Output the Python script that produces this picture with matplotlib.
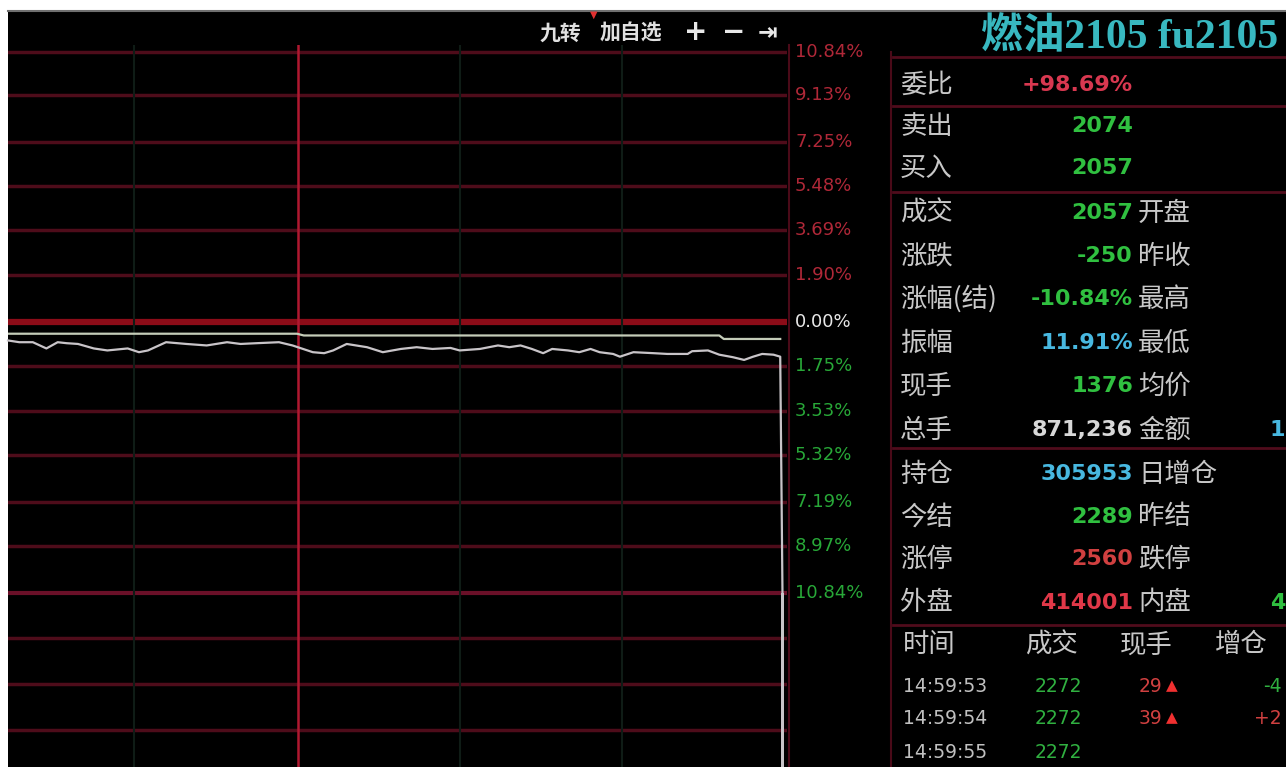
import matplotlib
matplotlib.use("Agg")
import matplotlib.pyplot as plt
from matplotlib.lines import Line2D
from matplotlib.patches import Rectangle

# intraday price, % change vs previous settle (minutes from session open)
times = [0, 5, 11, 17, 22, 26, 31, 38, 44, 53, 58, 62, 70, 79, 88, 97, 103, 110, 120, 126,
         135, 140, 144, 150, 159, 166, 174, 181, 188, 196, 200, 209, 217, 222, 227, 232, 237, 241, 248, 253,
         258, 262, 268, 271, 277, 286, 292, 301, 303, 310, 315, 321, 326, 330, 334, 339, 342, 343]
price_pct = [-0.72, -0.79, -0.79, -1.04, -0.79, -0.83, -0.86, -1.04, -1.12, -1.04, -1.19, -1.12, -0.79, -0.86, -0.92, -0.79, -0.86, -0.83, -0.79, -0.92,
             -1.19, -1.23, -1.12, -0.86, -0.99, -1.19, -1.06, -0.99, -1.06, -1.02, -1.12, -1.06, -0.92, -0.99, -0.92, -1.06, -1.23, -1.06, -1.12, -1.19,
             -1.06, -1.19, -1.26, -1.37, -1.19, -1.23, -1.26, -1.26, -1.15, -1.12, -1.29, -1.39, -1.50, -1.37, -1.26, -1.29, -1.37, -10.84]
avg_times = [0, 128, 131, 315, 317, 342]
avg_pct = [-0.45, -0.45, -0.52, -0.52, -0.66, -0.66]

vol_times = [343]
vol_vals = [52000]
vol_top = 37700
vol_grid = [8000, 18000, 28000]

up_levels = [10.84, 9.13, 7.25, 5.48, 3.69, 1.90]
down_levels = [1.75, 3.53, 5.32, 7.19, 8.97, 10.84]
session_lines = [128.4]
faint_lines = [56, 200.2, 271.9]

# quote panel
left_labels = ["委比", "卖出", "买入", "成交", "涨跌", "涨幅(结)", "振幅", "现手", "总手", "持仓", "今结", "涨停", "外盘"]
values = ["+98.69%", "2074", "2057", "2057", "-250", "-10.84%", "11.91%", "1376", "871,236", "305953", "2289", "2560", "414001"]
value_colors = ["#d83850", "#30c040", "#30c040", "#30c040", "#30c040", "#30c040", "#48b8e0", "#30c040",
                "#d8d8d8", "#48b8e0", "#30c040", "#d04040", "#e03848"]
right_labels = ["", "", "", "开盘", "昨收", "最高", "最低", "均价", "金额", "日增仓", "昨结", "跌停", "内盘"]

tick_header = ["时间", "成交", "现手", "增仓"]
tick_time = ["14:59:53", "14:59:54", "14:59:55"]
tick_price = ["2272", "2272", "2272"]
tick_hand = ["29", "39", ""]
tick_oi = ["-4", "+2", ""]

W, H = 1286, 767
def fx(x):
    return x / W
def fy(y):
    return 1 - y / H

CJK = ["Noto Sans CJK SC", "DejaVu Sans"]
GRID = "#4e0c1a"
FAINT = "#0f1c16"

fig = plt.figure(figsize=(12.86, 7.67), dpi=100)
fig.patch.set_facecolor("white")
fig.add_artist(Rectangle((fx(8), 0), 1 - fx(8), fy(10), transform=fig.transFigure,
                         facecolor="black", edgecolor="none", zorder=0))
fig.add_artist(Line2D([fx(8), 1], [fy(11), fy(11)], transform=fig.transFigure, color="#707070", lw=1.5))

# price panel
ax = fig.add_axes([fx(8), fy(593), (787 - 8) / W, (593 - 45) / H])
ax.set_facecolor("none")
ax.set_xlim(0, 345)
ax.set_ylim(-10.84, 11.12)
ax.axis("off")

for lv in up_levels:
    ax.axhline(lv, color=GRID, lw=2.5, zorder=1)
for lv in down_levels[:-1]:
    ax.axhline(-lv, color=GRID, lw=2.5, zorder=1)
ax.axhline(-down_levels[-1], color="#6a1028", lw=3, zorder=1, clip_on=False, solid_capstyle="butt")
ax.axhline(0, color="#8c0c18", lw=4.5, zorder=1)
for t in faint_lines:
    ax.axvline(t, color=FAINT, lw=1.5, zorder=1)
for t in session_lines:
    ax.axvline(t, color="#b01830", lw=1.8, zorder=2)

ax.plot(avg_times, avg_pct, color="#c4ccb8", lw=1.6, zorder=3)
ax.plot(times, price_pct, color="#c8c4c8", lw=1.6, zorder=4, clip_on=False)

# percent scale on the right of the chart
yt = ax.get_yaxis_transform()
for lv in up_levels:
    ax.text(1.0103, lv, "%.2f%%" % lv, transform=yt, color="#b02838", fontsize=13, va="center")
ax.text(1.0103, 0, "0.00%", transform=yt, color="#e8e8e8", fontsize=13, va="center")
for lv in down_levels:
    ax.text(1.0103, -lv, "%.2f%%" % lv, transform=yt, color="#28a838", fontsize=13, va="center")

# volume panel
vx = fig.add_axes([fx(8), 0, (787 - 8) / W, (767 - 593) / H])
vx.set_facecolor("none")
vx.set_xlim(0, 345)
vx.set_ylim(0, vol_top)
vx.axis("off")
for g in vol_grid:
    vx.axhline(g, color=GRID, lw=2.5, zorder=1)
for t in faint_lines:
    vx.axvline(t, color=FAINT, lw=1.5, zorder=1)
for t in session_lines:
    vx.axvline(t, color="#b01830", lw=1.8, zorder=2)
vx.bar(vol_times, vol_vals, width=1.3, color="#c8c4c8", zorder=3)

# toolbar
fig.text(fx(540), fy(33), "九转", family=CJK, fontsize=15, weight="bold", color="#e0e0e0", va="center")
fig.text(fx(600), fy(33), "加自选", family=CJK, fontsize=15, weight="bold", color="#e0e0e0", va="center")
fig.text(fx(684), fy(32), "+", fontsize=20, weight="bold", color="#e8e8e8", va="center")
fig.text(fx(722), fy(32), "−", fontsize=20, weight="bold", color="#e8e8e8", va="center")
fig.text(fx(758), fy(32), "⇥", fontsize=17, weight="bold", color="#e8e8e8", va="center")
fig.text(fx(590), fy(15), "▼", fontsize=7, color="#e03030", va="center")

# panel separators
def hline(y, x0, x1, c="#500c1c", w=2):
    fig.add_artist(Line2D([fx(x0), fx(x1)], [fy(y), fy(y)], transform=fig.transFigure, color=c, lw=w))
def vline(x, y0, y1, c="#4a0a18", w=1.5):
    fig.add_artist(Line2D([fx(x), fx(x)], [fy(y0), fy(y1)], transform=fig.transFigure, color=c, lw=w))

vline(789, 45, 767)
vline(891, 52, 767)
for y in [57, 106, 192, 448, 625]:
    hline(y, 893, 1286)

fig.text(fx(981), fy(37), "燃油2105 fu2105", family=["Liberation Serif", "Noto Sans CJK SC"],
         fontsize=30, weight="bold", color="#38b8c0", va="center")

row_y = [85, 126, 168, 213, 256, 299, 343, 386, 430, 474, 517, 559, 603]
for i in range(len(left_labels)):
    fig.text(fx(900), fy(row_y[i]), left_labels[i], family=CJK, fontsize=19, color="#c8c8c8", va="center")
    fig.text(fx(1133), fy(row_y[i]), values[i], fontsize=16, weight="bold", color=value_colors[i],
             ha="right", va="center")
    if right_labels[i]:
        fig.text(fx(1138), fy(row_y[i]), right_labels[i], family=CJK, fontsize=19, color="#c8c8c8", va="center")
# columns running off at the right edge
fig.text(fx(1270), fy(430), "1", fontsize=16, weight="bold", color="#48b8e0", va="center")
fig.text(fx(1270), fy(603), "4", fontsize=16, weight="bold", color="#30c040", va="center")

# tick list
head_x = [903, 1025, 1120, 1215]
for i in range(len(tick_header)):
    fig.text(fx(head_x[i]), fy(645), tick_header[i], family=CJK, fontsize=19, color="#c8c8c8", va="center")
tick_y = [686, 718, 752]
for i in range(len(tick_time)):
    fig.text(fx(903), fy(tick_y[i]), tick_time[i], fontsize=13.5, color="#c0c0c0", va="center")
    fig.text(fx(1035), fy(tick_y[i]), tick_price[i], fontsize=13.5, color="#30b040", va="center")
    if tick_hand[i]:
        fig.text(fx(1162), fy(tick_y[i]), tick_hand[i], fontsize=13.5, color="#d04040", ha="right", va="center")
        fig.text(fx(1166), fy(tick_y[i]), "▲", fontsize=11, color="#f03030", va="center")
    if tick_oi[i]:
        c = "#30b040" if tick_oi[i].startswith("-") else "#d04040"
        fig.text(fx(1282), fy(tick_y[i]), tick_oi[i], fontsize=13.5, color=c, ha="right", va="center")

fig.savefig("out.png", dpi=100, facecolor=fig.get_facecolor())
